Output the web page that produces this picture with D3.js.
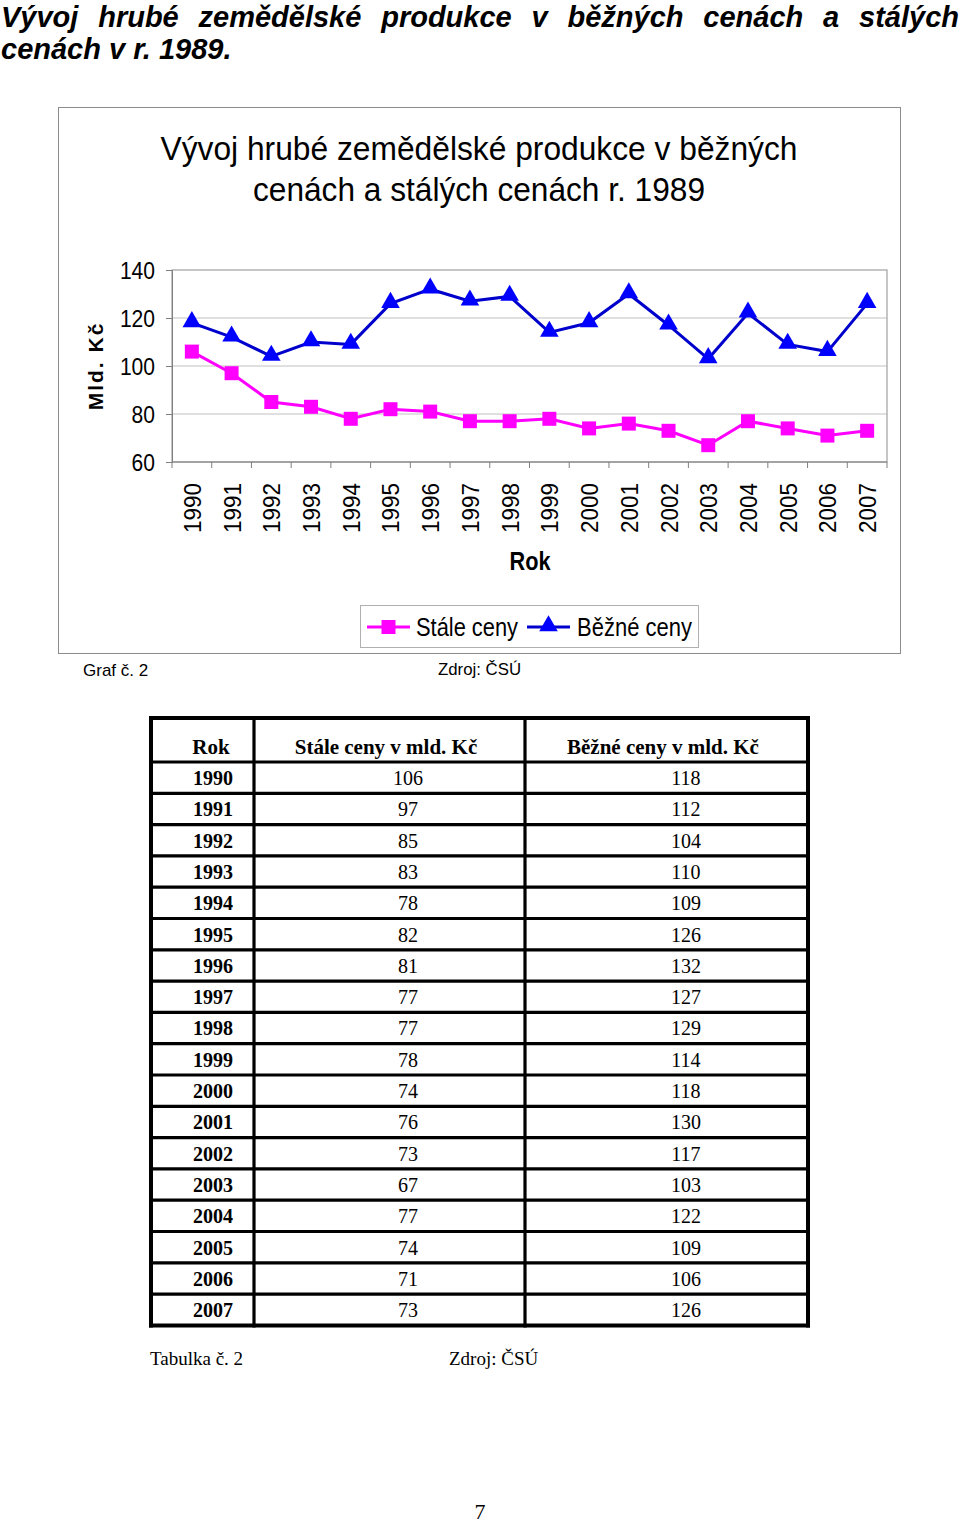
<!DOCTYPE html>
<html>
<head>
<meta charset="utf-8">
<script src="https://cdn.jsdelivr.net/npm/d3@7"></script>
<style>
  html, body { margin: 0; padding: 0; background: #fff; }
  svg { display: block; }
</style>
</head>
<body>
<script>
// ---- data ----
const years = ["1990","1991","1992","1993","1994","1995","1996","1997","1998","1999","2000","2001","2002","2003","2004","2005","2006","2007"];
const staleCeny = [106, 97, 85, 83, 78, 82, 81, 77, 77, 78, 74, 76, 73, 67, 77, 74, 71, 73];
const bezneCeny = [118, 112, 104, 110, 109, 126, 132, 127, 129, 114, 118, 130, 117, 103, 122, 109, 106, 126];
const yTicks = [60, 80, 100, 120, 140];
const seriesNames = ["Stále ceny", "Běžné ceny"];
const tableHeaders = ["Rok", "Stále ceny v mld. Kč", "Běžné ceny v mld. Kč"];

const SANS = "'Liberation Sans', Arial, sans-serif";
const SERIF = "'Liberation Serif', 'Times New Roman', serif";

const W = 960, H = 1525;
const svg = d3.select("body").append("svg").attr("width", W).attr("height", H);

// ---- page heading (justified first line) ----
const heading1 = ["Vývoj", "hrubé", "zemědělské", "produkce", "v", "běžných", "cenách", "a", "stálých"];
const h1 = svg.append("g").attr("font-family", SANS).attr("font-weight", "bold")
  .attr("font-style", "italic").attr("font-size", 29).attr("fill", "#000");
const tmp = h1.selectAll("text.w").data(heading1).join("text").attr("class", "w").text(d => d).attr("y", 27);
const widths = [];
tmp.each(function() { widths.push(this.getComputedTextLength()); });
const totalW = d3.sum(widths);
const gap = (958 - totalW) / (heading1.length - 1);
let cx = 1;
tmp.attr("x", (d, i) => { const x = cx; cx += widths[i] + gap; return x; });
h1.append("text").attr("x", 1).attr("y", 59).text("cenách v r. 1989.");

// ---- chart frame ----
svg.append("rect").attr("x", 58.5).attr("y", 107.5).attr("width", 842).attr("height", 546)
  .attr("fill", "#fff").attr("stroke", "#8c8c8c").attr("stroke-width", 1);

const titleLines = ["Vývoj hrubé zemědělské produkce v běžných", "cenách a stálých cenách r. 1989"];
const titleLen = [637, 452];
svg.append("g").attr("font-family", SANS).attr("font-size", 34).attr("text-anchor", "middle")
  .selectAll("text").data(titleLines)
  .join("text").attr("x", 479).attr("y", (d, i) => 160 + i * 41)
  .attr("textLength", (d, i) => titleLen[i]).attr("lengthAdjust", "spacingAndGlyphs").text(d => d);

const plot = { left: 172, right: 887, top: 270, bottom: 462 };
const x = d3.scaleBand().domain(years).range([plot.left, plot.right]).padding(0);
const y = d3.scaleLinear().domain([60, 140]).range([plot.bottom, plot.top]);

// gridlines
svg.append("g").selectAll("line").data(yTicks.filter(t => t > 60 && t < 140)).join("line")
  .attr("x1", plot.left).attr("x2", plot.right).attr("y1", d => y(d)).attr("y2", d => y(d))
  .attr("stroke", "#c0c0c0").attr("stroke-width", 1);
// plot border
svg.append("rect").attr("x", plot.left).attr("y", plot.top).attr("width", plot.right - plot.left)
  .attr("height", plot.bottom - plot.top).attr("fill", "none").attr("stroke", "#a0a0a0").attr("stroke-width", 1.2);

// y axis
const yAxis = svg.append("g").attr("transform", `translate(${plot.left},0)`)
  .call(d3.axisLeft(y).tickValues(yTicks).tickSize(6).tickPadding(11));
yAxis.select(".domain").attr("stroke", "#808080");
yAxis.selectAll(".tick line").attr("stroke", "#808080");
yAxis.selectAll("text").attr("font-family", SANS).attr("font-size", 24).attr("fill", "#000").attr("dy", "0.35em")
  .attr("textLength", d => String(d).length * 11.7).attr("lengthAdjust", "spacingAndGlyphs");

// x axis (ticks at category boundaries)
const xAxisG = svg.append("g").attr("transform", `translate(0,${plot.bottom})`);
xAxisG.append("line").attr("x1", plot.left).attr("x2", plot.right).attr("stroke", "#808080").attr("stroke-width", 1.2);
const boundaries = years.map(yv => x(yv)).concat([plot.right]);
xAxisG.selectAll("line.tk").data(boundaries).join("line").attr("class", "tk")
  .attr("x1", d => d).attr("x2", d => d).attr("y1", 0).attr("y2", 6).attr("stroke", "#808080");
xAxisG.selectAll("text").data(years).join("text")
  .attr("transform", d => `translate(${x(d) + x.bandwidth() / 2 + 9},21) rotate(-90)`)
  .attr("text-anchor", "end").attr("font-family", SANS).attr("font-size", 24)
  .attr("textLength", 50).attr("lengthAdjust", "spacingAndGlyphs")
  .text(d => d);

// axis titles
svg.append("text").attr("x", 530).attr("y", 570).attr("text-anchor", "middle")
  .attr("font-family", SANS).attr("font-weight", "bold").attr("font-size", 25)
  .attr("textLength", 41).attr("lengthAdjust", "spacingAndGlyphs").text("Rok");
svg.append("text").attr("transform", "translate(103,366) rotate(-90)").attr("text-anchor", "middle")
  .attr("font-family", SANS).attr("font-weight", "bold").attr("font-size", 21)
  .attr("letter-spacing", 2).text("Mld. Kč");

// lines
const line = d3.line().x((d, i) => x(years[i]) + x.bandwidth() / 2).y(d => y(d));
svg.append("path").datum(staleCeny).attr("d", line).attr("fill", "none").attr("stroke", "#ff00ff").attr("stroke-width", 3);
svg.append("path").datum(bezneCeny).attr("d", line).attr("fill", "none").attr("stroke", "#0000cc").attr("stroke-width", 3);

const sq = d3.symbol().type(d3.symbolSquare).size(196);
const tri = d3.symbol().type(d3.symbolTriangle).size(150);
svg.append("g").selectAll("path").data(staleCeny).join("path")
  .attr("d", sq).attr("transform", (d, i) => `translate(${x(years[i]) + x.bandwidth() / 2},${y(d)})`)
  .attr("fill", "#ff00ff");
svg.append("g").selectAll("path").data(bezneCeny).join("path")
  .attr("d", tri).attr("transform", (d, i) => `translate(${x(years[i]) + x.bandwidth() / 2},${y(d) - 1})`)
  .attr("fill", "#0000ff");

// legend
const lg = svg.append("g");
lg.append("rect").attr("x", 360.5).attr("y", 605.5).attr("width", 338).attr("height", 42)
  .attr("fill", "#fff").attr("stroke", "#b0b0b0");
const legendItems = [
  { name: seriesNames[0], color: "#ff00ff", sym: sq, lx: 367, tx: 416, len: 102 },
  { name: seriesNames[1], color: "#0000cc", sym: tri, lx: 527, tx: 577, len: 115 }
];
legendItems.forEach((it, i) => {
  lg.append("line").attr("x1", it.lx).attr("x2", it.lx + 43).attr("y1", 627).attr("y2", 627)
    .attr("stroke", it.color).attr("stroke-width", 3);
  lg.append("path").attr("d", it.sym).attr("transform", `translate(${it.lx + 21.5},${i ? 626 : 627})`)
    .attr("fill", i ? "#0000ff" : "#ff00ff");
  lg.append("text").attr("x", it.tx).attr("y", 636).attr("font-family", SANS).attr("font-size", 25)
    .attr("textLength", it.len).attr("lengthAdjust", "spacingAndGlyphs").text(it.name);
});

// captions under chart
svg.append("text").attr("x", 83).attr("y", 676).attr("font-family", SANS).attr("font-size", 17).text("Graf č. 2");
svg.append("text").attr("x", 438).attr("y", 675).attr("font-family", SANS).attr("font-size", 16)
  .attr("textLength", 83).attr("lengthAdjust", "spacingAndGlyphs").text("Zdroj: ČSÚ");

// ---- table ----
const tb = { top: 718, headerH: 44, rowH: 31.3, cols: [151, 254, 525, 808] };
const tg = svg.append("g");
const rowsData = years.map((yr, i) => [yr, staleCeny[i], bezneCeny[i]]);
const tableBottom = tb.top + tb.headerH + rowsData.length * tb.rowH;
const hdrX = [211, 386, 663];
tg.selectAll("text.h").data(tableHeaders).join("text").attr("class", "h")
  .attr("x", (d, i) => hdrX[i]).attr("y", tb.top + 36).attr("text-anchor", "middle")
  .attr("font-family", SERIF).attr("font-weight", "bold").attr("font-size", 21).text(d => d);
const cellX = [213, 408, 686];
const rows = tg.selectAll("g.r").data(rowsData).join("g").attr("class", "r")
  .attr("transform", (d, i) => `translate(0,${tb.top + tb.headerH + i * tb.rowH})`);
rows.selectAll("text").data(d => d).join("text")
  .attr("x", (d, i) => cellX[i]).attr("y", 23).attr("text-anchor", "middle")
  .attr("font-family", SERIF).attr("font-size", 20)
  .attr("font-weight", (d, i) => i === 0 ? "bold" : "normal").text(d => d);
const hLines = [tb.top, tb.top + tb.headerH].concat(rowsData.map((d, i) => tb.top + tb.headerH + (i + 1) * tb.rowH));
tg.selectAll("line.hl").data(hLines).join("line").attr("class", "hl")
  .attr("x1", tb.cols[0] - 2).attr("x2", tb.cols[3] + 2).attr("y1", d => d).attr("y2", d => d)
  .attr("stroke", "#000").attr("stroke-width", (d, i) => (i === 0 || i === hLines.length - 1) ? 4 : 3.2);
tg.selectAll("line.vl").data(tb.cols).join("line").attr("class", "vl")
  .attr("x1", d => d).attr("x2", d => d).attr("y1", tb.top - 2).attr("y2", tableBottom + 2)
  .attr("stroke", "#000").attr("stroke-width", (d, i) => (i === 0 || i === 3) ? 4 : 3.2);

svg.append("text").attr("x", 150).attr("y", 1365).attr("font-family", SERIF).attr("font-size", 19).text("Tabulka č. 2");
svg.append("text").attr("x", 449).attr("y", 1365).attr("font-family", SERIF).attr("font-size", 19).text("Zdroj: ČSÚ");
svg.append("text").attr("x", 480).attr("y", 1519).attr("text-anchor", "middle").attr("font-family", SERIF).attr("font-size", 22).text("7");
</script>
</body>
</html>
